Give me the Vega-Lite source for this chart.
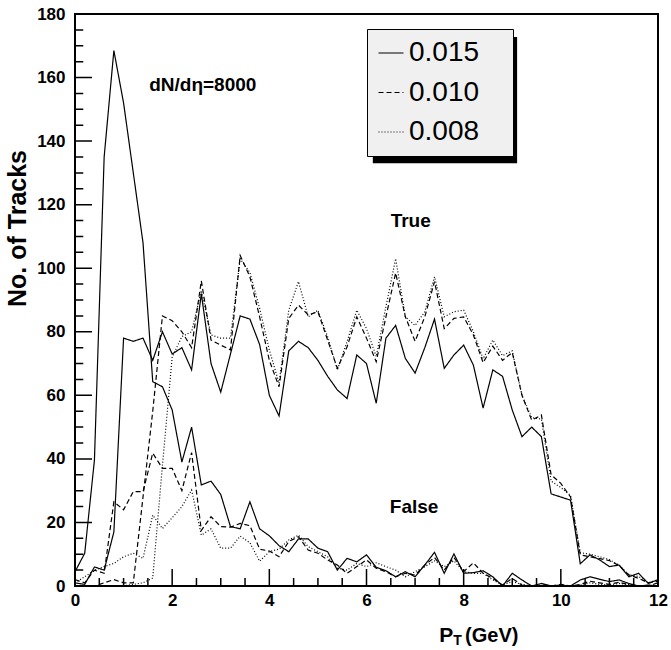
{
  "$schema": "https://vega.github.io/schema/vega-lite/v6.json",
  "width": 583,
  "height": 572,
  "autosize": {"type": "none"},
  "padding": {"left": 75, "top": 14, "right": 13, "bottom": 64},
  "background": "white",
  "config": {
    "view": {"stroke": "black", "strokeWidth": 2},
    "font": "Liberation Sans"
  },
  "datasets": {
    "tracks": [
      {"pt": 0, "T015": 1, "T010": 0, "T008": 0, "F015": 4.5, "F010": 2, "F008": 1},
      {"pt": 0.2, "T015": 0.5, "T010": 0, "T008": 0, "F015": 10.3, "F010": 1, "F008": 2.9},
      {"pt": 0.4, "T015": 6, "T010": 0, "T008": 0, "F015": 39.6, "F010": 5, "F008": 5},
      {"pt": 0.6, "T015": 5, "T010": 1, "T008": 0, "F015": 135, "F010": 4, "F008": 6.1},
      {"pt": 0.8, "T015": 17, "T010": 2, "T008": 0, "F015": 168.5, "F010": 26.5, "F008": 7.1},
      {"pt": 1.0, "T015": 78, "T010": 1, "T008": 0, "F015": 152, "F010": 24, "F008": 9.2},
      {"pt": 1.2, "T015": 77, "T010": 1, "T008": 0.5, "F015": 130, "F010": 29.7, "F008": 10.3},
      {"pt": 1.4, "T015": 78, "T010": 28, "T008": 1, "F015": 108, "F010": 29.7, "F008": 8.7},
      {"pt": 1.6, "T015": 71, "T010": 55, "T008": 2.5, "F015": 64.3, "F010": 41.8, "F008": 22.3},
      {"pt": 1.8, "T015": 80, "T010": 85, "T008": 38, "F015": 62.7, "F010": 37, "F008": 18.1},
      {"pt": 2.0, "T015": 73, "T010": 83.5, "T008": 72, "F015": 55.4, "F010": 37, "F008": 21.5},
      {"pt": 2.2, "T015": 75, "T010": 80, "T008": 78.5, "F015": 39, "F010": 30, "F008": 25},
      {"pt": 2.4, "T015": 68, "T010": 75, "T008": 80, "F015": 50, "F010": 42, "F008": 30.2},
      {"pt": 2.6, "T015": 92, "T010": 96, "T008": 93, "F015": 31.8, "F010": 17.5, "F008": 16},
      {"pt": 2.8, "T015": 70, "T010": 77.4, "T008": 79, "F015": 33, "F010": 21.8, "F008": 18},
      {"pt": 3.0, "T015": 61, "T010": 75.8, "T008": 78, "F015": 28.8, "F010": 18.7, "F008": 11.9},
      {"pt": 3.2, "T015": 73, "T010": 74.3, "T008": 78, "F015": 18.7, "F010": 18.5, "F008": 11.9},
      {"pt": 3.4, "T015": 85, "T010": 104, "T008": 103, "F015": 18, "F010": 19.7, "F008": 15.7},
      {"pt": 3.6, "T015": 84, "T010": 97.3, "T008": 98.6, "F015": 26.5, "F010": 19, "F008": 13.6},
      {"pt": 3.8, "T015": 76, "T010": 84.7, "T008": 87.4, "F015": 18, "F010": 11.6, "F008": 7.8},
      {"pt": 4.0, "T015": 60, "T010": 71, "T008": 74.3, "F015": 15.8, "F010": 11, "F008": 10.8},
      {"pt": 4.2, "T015": 53.5, "T010": 62.7, "T008": 63.8, "F015": 12.7, "F010": 9.2, "F008": 11.6},
      {"pt": 4.4, "T015": 74, "T010": 84.2, "T008": 86.8, "F015": 10.8, "F010": 14, "F008": 14.5},
      {"pt": 4.6, "T015": 77, "T010": 88.4, "T008": 95.8, "F015": 14.8, "F010": 15.5, "F008": 16},
      {"pt": 4.8, "T015": 75, "T010": 85.3, "T008": 84.7, "F015": 14.8, "F010": 11.3, "F008": 12.4},
      {"pt": 5.0, "T015": 71, "T010": 86.3, "T008": 86.8, "F015": 11.9, "F010": 10.3, "F008": 10.8},
      {"pt": 5.2, "T015": 66, "T010": 77.4, "T008": 78.4, "F015": 10.8, "F010": 8.2, "F008": 9.2},
      {"pt": 5.4, "T015": 61.7, "T010": 68.5, "T008": 68, "F015": 5, "F010": 6.6, "F008": 5.6},
      {"pt": 5.6, "T015": 59, "T010": 75.3, "T008": 76.9, "F015": 8.7, "F010": 4, "F008": 5},
      {"pt": 5.8, "T015": 72.7, "T010": 84.7, "T008": 86.8, "F015": 7.6, "F010": 6.1, "F008": 7.1},
      {"pt": 6.0, "T015": 70, "T010": 78, "T008": 81, "F015": 9.8, "F010": 8.2, "F008": 6.1},
      {"pt": 6.2, "T015": 57.5, "T010": 70.6, "T008": 72.2, "F015": 5.9, "F010": 5.6, "F008": 7.3},
      {"pt": 6.4, "T015": 78, "T010": 84.7, "T008": 87.9, "F015": 4.8, "F010": 4.5, "F008": 6.1},
      {"pt": 6.6, "T015": 82, "T010": 98.5, "T008": 103, "F015": 2.9, "F010": 2.9, "F008": 5},
      {"pt": 6.8, "T015": 71.6, "T010": 84.7, "T008": 84.7, "F015": 4.5, "F010": 4, "F008": 2.9},
      {"pt": 7.0, "T015": 67, "T010": 77, "T008": 82, "F015": 2.9, "F010": 3.4, "F008": 4.5},
      {"pt": 7.2, "T015": 75, "T010": 84.7, "T008": 86.3, "F015": 6.6, "F010": 6.6, "F008": 6.1},
      {"pt": 7.4, "T015": 84, "T010": 95.8, "T008": 97.3, "F015": 10.6, "F010": 9, "F008": 7.9},
      {"pt": 7.6, "T015": 68.5, "T010": 81, "T008": 84.7, "F015": 4, "F010": 5, "F008": 6.1},
      {"pt": 7.8, "T015": 72.7, "T010": 84.2, "T008": 86.3, "F015": 10.1, "F010": 9, "F008": 7.9},
      {"pt": 8.0, "T015": 75.8, "T010": 84.7, "T008": 86.8, "F015": 4, "F010": 4.5, "F008": 4.5},
      {"pt": 8.2, "T015": 69.5, "T010": 79, "T008": 80, "F015": 4.2, "F010": 7.3, "F008": 4},
      {"pt": 8.4, "T015": 56, "T010": 70.3, "T008": 71.5, "F015": 4.8, "F010": 4, "F008": 4},
      {"pt": 8.6, "T015": 68, "T010": 75.5, "T008": 77.4, "F015": 2.9, "F010": 2.4, "F008": 1.9},
      {"pt": 8.8, "T015": 66, "T010": 71, "T008": 72.5, "F015": 0, "F010": 0.3, "F008": 0.3},
      {"pt": 9.0, "T015": 55.4, "T010": 73.5, "T008": 74, "F015": 4, "F010": 2.4, "F008": 1.4},
      {"pt": 9.2, "T015": 47, "T010": 60, "T008": 60, "F015": 1.9, "F010": 0.3, "F008": 0.5},
      {"pt": 9.4, "T015": 50, "T010": 52.2, "T008": 53, "F015": 0, "F010": 0, "F008": 0},
      {"pt": 9.6, "T015": 47, "T010": 53.8, "T008": 52.5, "F015": 0.8, "F010": 0.3, "F008": 0},
      {"pt": 9.8, "T015": 29, "T010": 35, "T008": 33, "F015": 0, "F010": 0, "F008": 0},
      {"pt": 10.0, "T015": 28, "T010": 32.3, "T008": 31, "F015": 0.3, "F010": 0.5, "F008": 0},
      {"pt": 10.2, "T015": 27, "T010": 28, "T008": 28.5, "F015": 0, "F010": 0, "F008": 0},
      {"pt": 10.4, "T015": 7, "T010": 9.8, "T008": 10.5, "F015": 1.9, "F010": 0.5, "F008": 0.3},
      {"pt": 10.6, "T015": 9.8, "T010": 9.2, "T008": 10, "F015": 2.9, "F010": 1.5, "F008": 1},
      {"pt": 10.8, "T015": 8.2, "T010": 8.6, "T008": 9.2, "F015": 2.1, "F010": 1, "F008": 0.5},
      {"pt": 11.0, "T015": 6.1, "T010": 8, "T008": 8.3, "F015": 1.4, "F010": 0.5, "F008": 0.3},
      {"pt": 11.2, "T015": 6.6, "T010": 6.4, "T008": 6.5, "F015": 1.9, "F010": 1.2, "F008": 0.8},
      {"pt": 11.4, "T015": 2.9, "T010": 3.5, "T008": 3.5, "F015": 0.8, "F010": 0.4, "F008": 0.5},
      {"pt": 11.6, "T015": 4, "T010": 2.4, "T008": 3, "F015": 0, "F010": 0, "F008": 0},
      {"pt": 11.8, "T015": 0.8, "T010": 1, "T008": 1, "F015": 0.3, "F010": 0, "F008": 0},
      {"pt": 12.0, "T015": 2, "T010": 1.5, "T008": 2, "F015": 0, "F010": 1, "F008": 0}
    ]
  },
  "layer": [
    {
      "data": {"values": [{}]},
      "mark": {"type": "rect", "fill": "black"},
      "encoding": {
        "x": {"datum": 6.13, "type": "quantitative", "scale": {"domain": [0, 12], "nice": false, "zero": false}, "axis": null},
        "x2": {"datum": 9.1},
        "y": {"datum": 172.8, "type": "quantitative", "scale": {"domain": [0, 180], "nice": false, "zero": false}, "axis": null},
        "y2": {"datum": 133.0}
      }
    },
    {"data": {"values": [{}]}, "mark": {"type": "rect", "stroke": "black", "strokeWidth": 1.5}, "encoding": {"x": {"datum": 0, "type": "quantitative", "axis": null}, "x2": {"datum": 0.35}, "y": {"datum": 20, "type": "quantitative", "axis": null}, "y2": {"datum": 20}}},
    {"data": {"values": [{}]}, "mark": {"type": "rect", "stroke": "black", "strokeWidth": 1.5}, "encoding": {"x": {"datum": 0, "type": "quantitative", "axis": null}, "x2": {"datum": 0.35}, "y": {"datum": 40, "type": "quantitative", "axis": null}, "y2": {"datum": 40}}},
    {"data": {"values": [{}]}, "mark": {"type": "rect", "stroke": "black", "strokeWidth": 1.5}, "encoding": {"x": {"datum": 0, "type": "quantitative", "axis": null}, "x2": {"datum": 0.35}, "y": {"datum": 60, "type": "quantitative", "axis": null}, "y2": {"datum": 60}}},
    {"data": {"values": [{}]}, "mark": {"type": "rect", "stroke": "black", "strokeWidth": 1.5}, "encoding": {"x": {"datum": 0, "type": "quantitative", "axis": null}, "x2": {"datum": 0.35}, "y": {"datum": 80, "type": "quantitative", "axis": null}, "y2": {"datum": 80}}},
    {"data": {"values": [{}]}, "mark": {"type": "rect", "stroke": "black", "strokeWidth": 1.5}, "encoding": {"x": {"datum": 0, "type": "quantitative", "axis": null}, "x2": {"datum": 0.35}, "y": {"datum": 100, "type": "quantitative", "axis": null}, "y2": {"datum": 100}}},
    {"data": {"values": [{}]}, "mark": {"type": "rect", "stroke": "black", "strokeWidth": 1.5}, "encoding": {"x": {"datum": 0, "type": "quantitative", "axis": null}, "x2": {"datum": 0.35}, "y": {"datum": 120, "type": "quantitative", "axis": null}, "y2": {"datum": 120}}},
    {"data": {"values": [{}]}, "mark": {"type": "rect", "stroke": "black", "strokeWidth": 1.5}, "encoding": {"x": {"datum": 0, "type": "quantitative", "axis": null}, "x2": {"datum": 0.35}, "y": {"datum": 140, "type": "quantitative", "axis": null}, "y2": {"datum": 140}}},
    {"data": {"values": [{}]}, "mark": {"type": "rect", "stroke": "black", "strokeWidth": 1.5}, "encoding": {"x": {"datum": 0, "type": "quantitative", "axis": null}, "x2": {"datum": 0.35}, "y": {"datum": 160, "type": "quantitative", "axis": null}, "y2": {"datum": 160}}},
    {"data": {"values": [{}]}, "mark": {"type": "rect", "stroke": "black", "strokeWidth": 1.5}, "encoding": {"x": {"datum": 0, "type": "quantitative", "axis": null}, "x2": {"datum": 0.17}, "y": {"datum": 5, "type": "quantitative", "axis": null}, "y2": {"datum": 5}}},
    {"data": {"values": [{}]}, "mark": {"type": "rect", "stroke": "black", "strokeWidth": 1.5}, "encoding": {"x": {"datum": 0, "type": "quantitative", "axis": null}, "x2": {"datum": 0.17}, "y": {"datum": 10, "type": "quantitative", "axis": null}, "y2": {"datum": 10}}},
    {"data": {"values": [{}]}, "mark": {"type": "rect", "stroke": "black", "strokeWidth": 1.5}, "encoding": {"x": {"datum": 0, "type": "quantitative", "axis": null}, "x2": {"datum": 0.17}, "y": {"datum": 15, "type": "quantitative", "axis": null}, "y2": {"datum": 15}}},
    {"data": {"values": [{}]}, "mark": {"type": "rect", "stroke": "black", "strokeWidth": 1.5}, "encoding": {"x": {"datum": 0, "type": "quantitative", "axis": null}, "x2": {"datum": 0.17}, "y": {"datum": 25, "type": "quantitative", "axis": null}, "y2": {"datum": 25}}},
    {"data": {"values": [{}]}, "mark": {"type": "rect", "stroke": "black", "strokeWidth": 1.5}, "encoding": {"x": {"datum": 0, "type": "quantitative", "axis": null}, "x2": {"datum": 0.17}, "y": {"datum": 30, "type": "quantitative", "axis": null}, "y2": {"datum": 30}}},
    {"data": {"values": [{}]}, "mark": {"type": "rect", "stroke": "black", "strokeWidth": 1.5}, "encoding": {"x": {"datum": 0, "type": "quantitative", "axis": null}, "x2": {"datum": 0.17}, "y": {"datum": 35, "type": "quantitative", "axis": null}, "y2": {"datum": 35}}},
    {"data": {"values": [{}]}, "mark": {"type": "rect", "stroke": "black", "strokeWidth": 1.5}, "encoding": {"x": {"datum": 0, "type": "quantitative", "axis": null}, "x2": {"datum": 0.17}, "y": {"datum": 45, "type": "quantitative", "axis": null}, "y2": {"datum": 45}}},
    {"data": {"values": [{}]}, "mark": {"type": "rect", "stroke": "black", "strokeWidth": 1.5}, "encoding": {"x": {"datum": 0, "type": "quantitative", "axis": null}, "x2": {"datum": 0.17}, "y": {"datum": 50, "type": "quantitative", "axis": null}, "y2": {"datum": 50}}},
    {"data": {"values": [{}]}, "mark": {"type": "rect", "stroke": "black", "strokeWidth": 1.5}, "encoding": {"x": {"datum": 0, "type": "quantitative", "axis": null}, "x2": {"datum": 0.17}, "y": {"datum": 55, "type": "quantitative", "axis": null}, "y2": {"datum": 55}}},
    {"data": {"values": [{}]}, "mark": {"type": "rect", "stroke": "black", "strokeWidth": 1.5}, "encoding": {"x": {"datum": 0, "type": "quantitative", "axis": null}, "x2": {"datum": 0.17}, "y": {"datum": 65, "type": "quantitative", "axis": null}, "y2": {"datum": 65}}},
    {"data": {"values": [{}]}, "mark": {"type": "rect", "stroke": "black", "strokeWidth": 1.5}, "encoding": {"x": {"datum": 0, "type": "quantitative", "axis": null}, "x2": {"datum": 0.17}, "y": {"datum": 70, "type": "quantitative", "axis": null}, "y2": {"datum": 70}}},
    {"data": {"values": [{}]}, "mark": {"type": "rect", "stroke": "black", "strokeWidth": 1.5}, "encoding": {"x": {"datum": 0, "type": "quantitative", "axis": null}, "x2": {"datum": 0.17}, "y": {"datum": 75, "type": "quantitative", "axis": null}, "y2": {"datum": 75}}},
    {"data": {"values": [{}]}, "mark": {"type": "rect", "stroke": "black", "strokeWidth": 1.5}, "encoding": {"x": {"datum": 0, "type": "quantitative", "axis": null}, "x2": {"datum": 0.17}, "y": {"datum": 85, "type": "quantitative", "axis": null}, "y2": {"datum": 85}}},
    {"data": {"values": [{}]}, "mark": {"type": "rect", "stroke": "black", "strokeWidth": 1.5}, "encoding": {"x": {"datum": 0, "type": "quantitative", "axis": null}, "x2": {"datum": 0.17}, "y": {"datum": 90, "type": "quantitative", "axis": null}, "y2": {"datum": 90}}},
    {"data": {"values": [{}]}, "mark": {"type": "rect", "stroke": "black", "strokeWidth": 1.5}, "encoding": {"x": {"datum": 0, "type": "quantitative", "axis": null}, "x2": {"datum": 0.17}, "y": {"datum": 95, "type": "quantitative", "axis": null}, "y2": {"datum": 95}}},
    {"data": {"values": [{}]}, "mark": {"type": "rect", "stroke": "black", "strokeWidth": 1.5}, "encoding": {"x": {"datum": 0, "type": "quantitative", "axis": null}, "x2": {"datum": 0.17}, "y": {"datum": 105, "type": "quantitative", "axis": null}, "y2": {"datum": 105}}},
    {"data": {"values": [{}]}, "mark": {"type": "rect", "stroke": "black", "strokeWidth": 1.5}, "encoding": {"x": {"datum": 0, "type": "quantitative", "axis": null}, "x2": {"datum": 0.17}, "y": {"datum": 110, "type": "quantitative", "axis": null}, "y2": {"datum": 110}}},
    {"data": {"values": [{}]}, "mark": {"type": "rect", "stroke": "black", "strokeWidth": 1.5}, "encoding": {"x": {"datum": 0, "type": "quantitative", "axis": null}, "x2": {"datum": 0.17}, "y": {"datum": 115, "type": "quantitative", "axis": null}, "y2": {"datum": 115}}},
    {"data": {"values": [{}]}, "mark": {"type": "rect", "stroke": "black", "strokeWidth": 1.5}, "encoding": {"x": {"datum": 0, "type": "quantitative", "axis": null}, "x2": {"datum": 0.17}, "y": {"datum": 125, "type": "quantitative", "axis": null}, "y2": {"datum": 125}}},
    {"data": {"values": [{}]}, "mark": {"type": "rect", "stroke": "black", "strokeWidth": 1.5}, "encoding": {"x": {"datum": 0, "type": "quantitative", "axis": null}, "x2": {"datum": 0.17}, "y": {"datum": 130, "type": "quantitative", "axis": null}, "y2": {"datum": 130}}},
    {"data": {"values": [{}]}, "mark": {"type": "rect", "stroke": "black", "strokeWidth": 1.5}, "encoding": {"x": {"datum": 0, "type": "quantitative", "axis": null}, "x2": {"datum": 0.17}, "y": {"datum": 135, "type": "quantitative", "axis": null}, "y2": {"datum": 135}}},
    {"data": {"values": [{}]}, "mark": {"type": "rect", "stroke": "black", "strokeWidth": 1.5}, "encoding": {"x": {"datum": 0, "type": "quantitative", "axis": null}, "x2": {"datum": 0.17}, "y": {"datum": 145, "type": "quantitative", "axis": null}, "y2": {"datum": 145}}},
    {"data": {"values": [{}]}, "mark": {"type": "rect", "stroke": "black", "strokeWidth": 1.5}, "encoding": {"x": {"datum": 0, "type": "quantitative", "axis": null}, "x2": {"datum": 0.17}, "y": {"datum": 150, "type": "quantitative", "axis": null}, "y2": {"datum": 150}}},
    {"data": {"values": [{}]}, "mark": {"type": "rect", "stroke": "black", "strokeWidth": 1.5}, "encoding": {"x": {"datum": 0, "type": "quantitative", "axis": null}, "x2": {"datum": 0.17}, "y": {"datum": 155, "type": "quantitative", "axis": null}, "y2": {"datum": 155}}},
    {"data": {"values": [{}]}, "mark": {"type": "rect", "stroke": "black", "strokeWidth": 1.5}, "encoding": {"x": {"datum": 0, "type": "quantitative", "axis": null}, "x2": {"datum": 0.17}, "y": {"datum": 165, "type": "quantitative", "axis": null}, "y2": {"datum": 165}}},
    {"data": {"values": [{}]}, "mark": {"type": "rect", "stroke": "black", "strokeWidth": 1.5}, "encoding": {"x": {"datum": 0, "type": "quantitative", "axis": null}, "x2": {"datum": 0.17}, "y": {"datum": 170, "type": "quantitative", "axis": null}, "y2": {"datum": 170}}},
    {"data": {"values": [{}]}, "mark": {"type": "rect", "stroke": "black", "strokeWidth": 1.5}, "encoding": {"x": {"datum": 0, "type": "quantitative", "axis": null}, "x2": {"datum": 0.17}, "y": {"datum": 175, "type": "quantitative", "axis": null}, "y2": {"datum": 175}}},
    {"data": {"values": [{}]}, "mark": {"type": "rect", "stroke": "black", "strokeWidth": 1.5}, "encoding": {"x": {"datum": 2, "type": "quantitative", "axis": null}, "x2": {"datum": 2}, "y": {"datum": 0, "type": "quantitative", "axis": null}, "y2": {"datum": 5.35}}},
    {"data": {"values": [{}]}, "mark": {"type": "rect", "stroke": "black", "strokeWidth": 1.5}, "encoding": {"x": {"datum": 4, "type": "quantitative", "axis": null}, "x2": {"datum": 4}, "y": {"datum": 0, "type": "quantitative", "axis": null}, "y2": {"datum": 5.35}}},
    {"data": {"values": [{}]}, "mark": {"type": "rect", "stroke": "black", "strokeWidth": 1.5}, "encoding": {"x": {"datum": 6, "type": "quantitative", "axis": null}, "x2": {"datum": 6}, "y": {"datum": 0, "type": "quantitative", "axis": null}, "y2": {"datum": 5.35}}},
    {"data": {"values": [{}]}, "mark": {"type": "rect", "stroke": "black", "strokeWidth": 1.5}, "encoding": {"x": {"datum": 8, "type": "quantitative", "axis": null}, "x2": {"datum": 8}, "y": {"datum": 0, "type": "quantitative", "axis": null}, "y2": {"datum": 5.35}}},
    {"data": {"values": [{}]}, "mark": {"type": "rect", "stroke": "black", "strokeWidth": 1.5}, "encoding": {"x": {"datum": 10, "type": "quantitative", "axis": null}, "x2": {"datum": 10}, "y": {"datum": 0, "type": "quantitative", "axis": null}, "y2": {"datum": 5.35}}},
    {"data": {"values": [{}]}, "mark": {"type": "rect", "stroke": "black", "strokeWidth": 1.5}, "encoding": {"x": {"datum": 0.5, "type": "quantitative", "axis": null}, "x2": {"datum": 0.5}, "y": {"datum": 0, "type": "quantitative", "axis": null}, "y2": {"datum": 2.5}}},
    {"data": {"values": [{}]}, "mark": {"type": "rect", "stroke": "black", "strokeWidth": 1.5}, "encoding": {"x": {"datum": 1, "type": "quantitative", "axis": null}, "x2": {"datum": 1}, "y": {"datum": 0, "type": "quantitative", "axis": null}, "y2": {"datum": 2.5}}},
    {"data": {"values": [{}]}, "mark": {"type": "rect", "stroke": "black", "strokeWidth": 1.5}, "encoding": {"x": {"datum": 1.5, "type": "quantitative", "axis": null}, "x2": {"datum": 1.5}, "y": {"datum": 0, "type": "quantitative", "axis": null}, "y2": {"datum": 2.5}}},
    {"data": {"values": [{}]}, "mark": {"type": "rect", "stroke": "black", "strokeWidth": 1.5}, "encoding": {"x": {"datum": 2.5, "type": "quantitative", "axis": null}, "x2": {"datum": 2.5}, "y": {"datum": 0, "type": "quantitative", "axis": null}, "y2": {"datum": 2.5}}},
    {"data": {"values": [{}]}, "mark": {"type": "rect", "stroke": "black", "strokeWidth": 1.5}, "encoding": {"x": {"datum": 3, "type": "quantitative", "axis": null}, "x2": {"datum": 3}, "y": {"datum": 0, "type": "quantitative", "axis": null}, "y2": {"datum": 2.5}}},
    {"data": {"values": [{}]}, "mark": {"type": "rect", "stroke": "black", "strokeWidth": 1.5}, "encoding": {"x": {"datum": 3.5, "type": "quantitative", "axis": null}, "x2": {"datum": 3.5}, "y": {"datum": 0, "type": "quantitative", "axis": null}, "y2": {"datum": 2.5}}},
    {"data": {"values": [{}]}, "mark": {"type": "rect", "stroke": "black", "strokeWidth": 1.5}, "encoding": {"x": {"datum": 4.5, "type": "quantitative", "axis": null}, "x2": {"datum": 4.5}, "y": {"datum": 0, "type": "quantitative", "axis": null}, "y2": {"datum": 2.5}}},
    {"data": {"values": [{}]}, "mark": {"type": "rect", "stroke": "black", "strokeWidth": 1.5}, "encoding": {"x": {"datum": 5, "type": "quantitative", "axis": null}, "x2": {"datum": 5}, "y": {"datum": 0, "type": "quantitative", "axis": null}, "y2": {"datum": 2.5}}},
    {"data": {"values": [{}]}, "mark": {"type": "rect", "stroke": "black", "strokeWidth": 1.5}, "encoding": {"x": {"datum": 5.5, "type": "quantitative", "axis": null}, "x2": {"datum": 5.5}, "y": {"datum": 0, "type": "quantitative", "axis": null}, "y2": {"datum": 2.5}}},
    {"data": {"values": [{}]}, "mark": {"type": "rect", "stroke": "black", "strokeWidth": 1.5}, "encoding": {"x": {"datum": 6.5, "type": "quantitative", "axis": null}, "x2": {"datum": 6.5}, "y": {"datum": 0, "type": "quantitative", "axis": null}, "y2": {"datum": 2.5}}},
    {"data": {"values": [{}]}, "mark": {"type": "rect", "stroke": "black", "strokeWidth": 1.5}, "encoding": {"x": {"datum": 7, "type": "quantitative", "axis": null}, "x2": {"datum": 7}, "y": {"datum": 0, "type": "quantitative", "axis": null}, "y2": {"datum": 2.5}}},
    {"data": {"values": [{}]}, "mark": {"type": "rect", "stroke": "black", "strokeWidth": 1.5}, "encoding": {"x": {"datum": 7.5, "type": "quantitative", "axis": null}, "x2": {"datum": 7.5}, "y": {"datum": 0, "type": "quantitative", "axis": null}, "y2": {"datum": 2.5}}},
    {"data": {"values": [{}]}, "mark": {"type": "rect", "stroke": "black", "strokeWidth": 1.5}, "encoding": {"x": {"datum": 8.5, "type": "quantitative", "axis": null}, "x2": {"datum": 8.5}, "y": {"datum": 0, "type": "quantitative", "axis": null}, "y2": {"datum": 2.5}}},
    {"data": {"values": [{}]}, "mark": {"type": "rect", "stroke": "black", "strokeWidth": 1.5}, "encoding": {"x": {"datum": 9, "type": "quantitative", "axis": null}, "x2": {"datum": 9}, "y": {"datum": 0, "type": "quantitative", "axis": null}, "y2": {"datum": 2.5}}},
    {"data": {"values": [{}]}, "mark": {"type": "rect", "stroke": "black", "strokeWidth": 1.5}, "encoding": {"x": {"datum": 9.5, "type": "quantitative", "axis": null}, "x2": {"datum": 9.5}, "y": {"datum": 0, "type": "quantitative", "axis": null}, "y2": {"datum": 2.5}}},
    {"data": {"values": [{}]}, "mark": {"type": "rect", "stroke": "black", "strokeWidth": 1.5}, "encoding": {"x": {"datum": 10.5, "type": "quantitative", "axis": null}, "x2": {"datum": 10.5}, "y": {"datum": 0, "type": "quantitative", "axis": null}, "y2": {"datum": 2.5}}},
    {"data": {"values": [{}]}, "mark": {"type": "rect", "stroke": "black", "strokeWidth": 1.5}, "encoding": {"x": {"datum": 11, "type": "quantitative", "axis": null}, "x2": {"datum": 11}, "y": {"datum": 0, "type": "quantitative", "axis": null}, "y2": {"datum": 2.5}}},
    {"data": {"values": [{}]}, "mark": {"type": "rect", "stroke": "black", "strokeWidth": 1.5}, "encoding": {"x": {"datum": 11.5, "type": "quantitative", "axis": null}, "x2": {"datum": 11.5}, "y": {"datum": 0, "type": "quantitative", "axis": null}, "y2": {"datum": 2.5}}},
    {
      "data": {"name": "tracks"},
      "transform": [{"fold": ["T015", "T010", "T008", "F015", "F010", "F008"], "as": ["series", "n"]}],
      "mark": {"type": "line", "color": "black", "strokeWidth": 1.2, "clip": true},
      "encoding": {
        "x": {"field": "pt", "type": "quantitative", "scale": {"domain": [0, 12], "nice": false, "zero": false},
          "axis": {"orient": "bottom", "values": [0, 2, 4, 6, 8, 10, 12], "ticks": false, "tickSize": 0, "grid": false, "domain": false,
            "labelPadding": 6, "labelFont": "Liberation Sans", "labelFontWeight": "bold", "labelFontSize": 17, "labelColor": "black",
            "title": null, "labelFlush": false}},
        "y": {"field": "n", "type": "quantitative", "scale": {"domain": [0, 180], "nice": false, "zero": false},
          "axis": {"orient": "left", "values": [0, 20, 40, 60, 80, 100, 120, 140, 160, 180], "ticks": false, "tickSize": 0, "grid": false, "domain": false,
            "labelPadding": 10, "labelFont": "Liberation Sans", "labelFontWeight": "bold", "labelFontSize": 17, "labelColor": "black",
            "title": "No. of Tracks", "titleFont": "Liberation Sans", "titleFontWeight": "bold", "titleFontSize": 25, "titleColor": "black",
            "titleX": -58, "titleY": 214, "titleAngle": -90, "titleAlign": "center", "titleBaseline": "middle"}},
        "strokeDash": {"field": "series", "type": "nominal",
          "scale": {"domain": ["T015", "T010", "T008", "F015", "F010", "F008"], "range": [[1, 0], [5, 3], [1, 2], [1, 0], [5, 3], [1, 2]]},
          "legend": {"orient": "none", "legendX": 292, "legendY": 15, "values": ["T015", "T010", "T008"],
            "labelExpr": "'0.' + substring(datum.label, 1)", "title": "\u00a0", "titleOrient": "right", "titlePadding": 24,
            "fillColor": "#f0f0f0", "strokeColor": "black", "padding": 10, "symbolType": "stroke", "symbolSize": 625,
            "symbolStrokeWidth": 1.2, "symbolStrokeColor": "black", "labelFont": "Liberation Sans", "labelFontSize": 28,
            "labelFontWeight": "normal", "labelColor": "black", "labelOffset": 4, "rowPadding": 11.5}}
      }
    },
    {
      "data": {"values": [{}]},
      "mark": {"type": "text", "text": "dN/d\u03b7=8000", "font": "Liberation Sans", "fontWeight": "bold", "fontSize": 19, "align": "center", "baseline": "middle", "color": "black"},
      "encoding": {
        "x": {"datum": 2.63, "type": "quantitative", "scale": {"domain": [0, 12], "nice": false, "zero": false}, "axis": null},
        "y": {"datum": 157.6, "type": "quantitative", "scale": {"domain": [0, 180], "nice": false, "zero": false}, "axis": null}
      }
    },
    {
      "data": {"values": [{}]},
      "mark": {"type": "text", "text": "True", "font": "Liberation Sans", "fontWeight": "bold", "fontSize": 19, "align": "center", "baseline": "middle", "color": "black"},
      "encoding": {
        "x": {"datum": 6.91, "type": "quantitative", "scale": {"domain": [0, 12], "nice": false, "zero": false}, "axis": null},
        "y": {"datum": 115, "type": "quantitative", "scale": {"domain": [0, 180], "nice": false, "zero": false}, "axis": null}
      }
    },
    {
      "data": {"values": [{}]},
      "mark": {"type": "text", "text": "False", "font": "Liberation Sans", "fontWeight": "bold", "fontSize": 19, "align": "center", "baseline": "middle", "color": "black"},
      "encoding": {
        "x": {"datum": 6.98, "type": "quantitative", "scale": {"domain": [0, 12], "nice": false, "zero": false}, "axis": null},
        "y": {"datum": 25, "type": "quantitative", "scale": {"domain": [0, 180], "nice": false, "zero": false}, "axis": null}
      }
    },
    {
      "data": {"values": [{}]},
      "mark": {"type": "text", "text": "P", "font": "Liberation Sans", "fontWeight": "bold", "fontSize": 21, "align": "center", "baseline": "alphabetic", "color": "black"},
      "encoding": {
        "x": {"datum": 7.64, "type": "quantitative", "scale": {"domain": [0, 12], "nice": false, "zero": false}, "axis": null},
        "y": {"datum": -17.6, "type": "quantitative", "scale": {"domain": [0, 180], "nice": false, "zero": false}, "axis": null}
      }
    },
    {
      "data": {"values": [{}]},
      "mark": {"type": "text", "text": "T", "font": "Liberation Sans", "fontWeight": "bold", "fontSize": 14, "align": "center", "baseline": "alphabetic", "color": "black"},
      "encoding": {
        "x": {"datum": 7.875, "type": "quantitative", "scale": {"domain": [0, 12], "nice": false, "zero": false}, "axis": null},
        "y": {"datum": -18.6, "type": "quantitative", "scale": {"domain": [0, 180], "nice": false, "zero": false}, "axis": null}
      }
    },
    {
      "data": {"values": [{}]},
      "mark": {"type": "text", "text": "(GeV)", "font": "Liberation Sans", "fontWeight": "bold", "fontSize": 20, "align": "left", "baseline": "alphabetic", "color": "black"},
      "encoding": {
        "x": {"datum": 8.03, "type": "quantitative", "scale": {"domain": [0, 12], "nice": false, "zero": false}, "axis": null},
        "y": {"datum": -17.6, "type": "quantitative", "scale": {"domain": [0, 180], "nice": false, "zero": false}, "axis": null}
      }
    }
  ],
  "resolve": {"axis": {"x": "independent", "y": "independent"}}
}
